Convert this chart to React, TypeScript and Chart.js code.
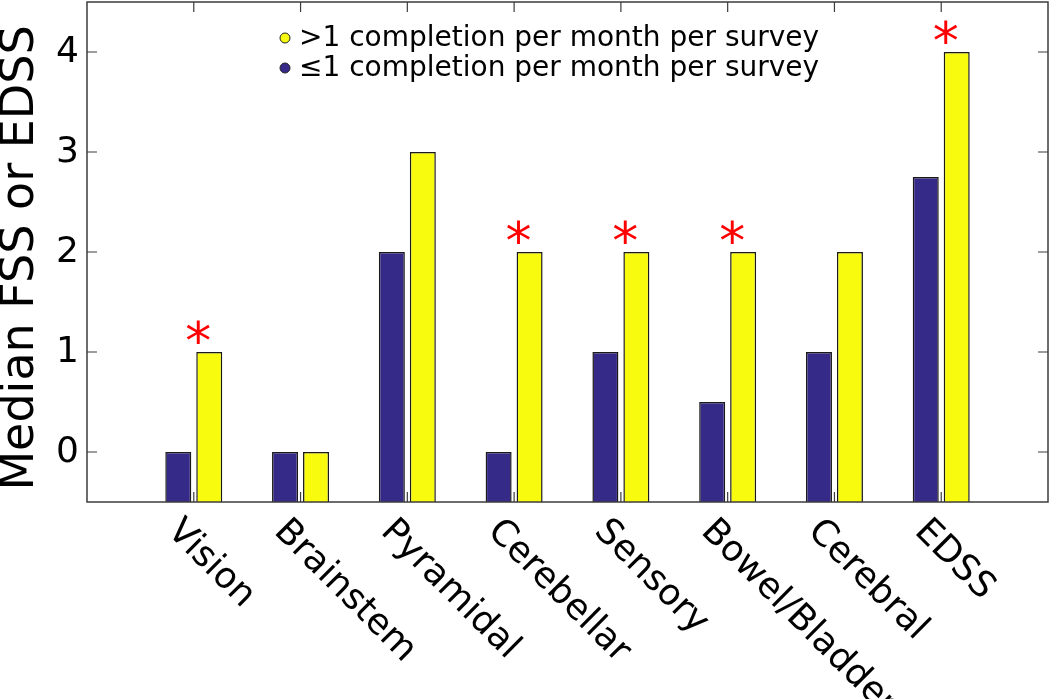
import React, { useEffect, useRef } from 'react';
import { Chart, registerables } from 'chart.js';

Chart.register(...registerables);

const categories = ['Vision', 'Brainstem', 'Pyramidal', 'Cerebellar', 'Sensory', 'Bowel/Bladder', 'Cerebral', 'EDSS'];
const lowValues = [0, 0, 2, 0, 1, 0.5, 1, 2.75];
const highValues = [1, 0, 3, 2, 2, 2, 2, 4];
const significant = [true, false, false, true, true, true, false, true];
const yTicks = [0, 1, 2, 3, 4];
const highLabel = '>1 completion per month per survey';
const lowLabel = '\u22641 completion per month per survey';
const yTitle = 'Median FSS or EDSS';

const FONT = '"DejaVu Sans", Verdana, sans-serif';
const BLUE = '#352a87';
const YELLOW = '#f9fb0e';
const AXIS = '#3c3c3c';

const paddedLabels = ['', ...categories, ''];
const padData = (arr: number[]) => [null, ...arr, null];

const overlayPlugin = {
  id: 'overlay',
  afterDraw(chart: any) {
    const ctx = chart.ctx as CanvasRenderingContext2D;
    const { left, right, top, bottom } = chart.chartArea;
    const xs = chart.scales.x;
    const ys = chart.scales.y;
    ctx.save();

    // axes box
    ctx.strokeStyle = AXIS;
    ctx.lineWidth = 1.5;
    ctx.strokeRect(left, top, right - left, bottom - top);

    // ticks (inside)
    ctx.beginPath();
    yTicks.forEach((v) => {
      const py = ys.getPixelForValue(v);
      ctx.moveTo(left, py);
      ctx.lineTo(left + 10, py);
      ctx.moveTo(right, py);
      ctx.lineTo(right - 10, py);
    });
    categories.forEach((_, i) => {
      const px = xs.getPixelForValue(i + 1);
      ctx.moveTo(px, top);
      ctx.lineTo(px, top + 10);
      ctx.moveTo(px, bottom);
      ctx.lineTo(px, bottom - 10);
    });
    ctx.lineWidth = 1.2;
    ctx.stroke();

    // y tick labels
    ctx.fillStyle = '#000';
    ctx.font = `36px ${FONT}`;
    ctx.textAlign = 'right';
    ctx.textBaseline = 'middle';
    yTicks.forEach((v) => {
      ctx.fillText(String(v), left - 8, ys.getPixelForValue(v) + 1);
    });

    // rotated category labels
    ctx.font = `36px ${FONT}`;
    ctx.textAlign = 'left';
    ctx.textBaseline = 'middle';
    categories.forEach((c, i) => {
      const px = xs.getPixelForValue(i + 1);
      ctx.save();
      ctx.translate(px - 21, bottom + 24);
      ctx.rotate(Math.PI / 4);
      ctx.fillText(c, 0, 0);
      ctx.restore();
    });

    // y title
    ctx.save();
    ctx.font = `46px ${FONT}`;
    ctx.textAlign = 'center';
    ctx.textBaseline = 'alphabetic';
    ctx.translate(33, 258);
    ctx.rotate(-Math.PI / 2);
    ctx.fillText(yTitle, 0, 0);
    ctx.restore();

    // significance asterisks
    const meta = chart.getDatasetMeta(1);
    ctx.fillStyle = '#ff0000';
    ctx.font = `52px ${FONT}`;
    ctx.textAlign = 'center';
    ctx.textBaseline = 'alphabetic';
    const m = ctx.measureText('*');
    const asc = m.actualBoundingBoxAscent;
    const desc = m.actualBoundingBoxDescent;
    significant.forEach((s, i) => {
      if (!s) return;
      const el = meta.data[i + 1];
      const cx = el.x - 11;
      const cy = el.y - 20;
      ctx.fillText('*', cx, cy + (asc - desc) / 2);
    });

    // legend
    const items = [
      { label: highLabel, color: YELLOW, y: 38 },
      { label: lowLabel, color: BLUE, y: 68 },
    ];
    ctx.font = `28px ${FONT}`;
    ctx.textAlign = 'left';
    ctx.textBaseline = 'middle';
    items.forEach((it) => {
      ctx.beginPath();
      ctx.arc(285, it.y, 5, 0, Math.PI * 2);
      ctx.fillStyle = it.color;
      ctx.fill();
      ctx.lineWidth = 1;
      ctx.strokeStyle = '#222';
      ctx.stroke();
      ctx.fillStyle = '#000';
      ctx.fillText(it.label, 299, it.y + 1);
    });

    ctx.restore();
  },
};

export default function App() {
  const canvasRef = useRef<HTMLCanvasElement | null>(null);

  useEffect(() => {
    if (!canvasRef.current) return;
    const chart = new Chart(canvasRef.current, {
      type: 'bar',
      data: {
        labels: paddedLabels,
        datasets: [
          {
            label: lowLabel,
            data: padData(lowValues) as any,
            backgroundColor: BLUE,
            borderColor: '#1a1a1a',
            borderWidth: 1.5,
            base: -0.5,
            categoryPercentage: 0.58,
            barPercentage: 0.84,
          } as any,
          {
            label: highLabel,
            data: padData(highValues) as any,
            backgroundColor: YELLOW,
            borderColor: '#1a1a1a',
            borderWidth: 1.5,
            base: -0.5,
            categoryPercentage: 0.58,
            barPercentage: 0.84,
          } as any,
        ],
      },
      options: {
        animation: false,
        responsive: false,
        devicePixelRatio: 1,
        layout: { padding: { top: 2, right: 2, left: 0, bottom: 0 } },
        plugins: { legend: { display: false }, tooltip: { enabled: false } },
        scales: {
          x: {
            type: 'category',
            offset: false,
            grid: { display: false, drawTicks: false },
            border: { display: false },
            ticks: { display: false },
            afterFit: (s: any) => {
              s.height = 197;
            },
          },
          y: {
            type: 'linear',
            min: -0.5,
            max: 4.5,
            grid: { display: false, drawTicks: false },
            border: { display: false },
            afterBuildTicks: (s: any) => {
              s.ticks = yTicks.map((v) => ({ value: v }));
            },
            ticks: { display: false },
            afterFit: (s: any) => {
              s.width = 87;
            },
          },
        },
      },
      plugins: [overlayPlugin],
    });
    return () => chart.destroy();
  }, []);

  return (
    <div style={{ position: 'absolute', left: 0, top: 0, width: 1050, height: 699, background: '#fff' }}>
      <canvas ref={canvasRef} width={1050} height={699} style={{ width: 1050, height: 699, display: 'block' }} />
    </div>
  );
}
